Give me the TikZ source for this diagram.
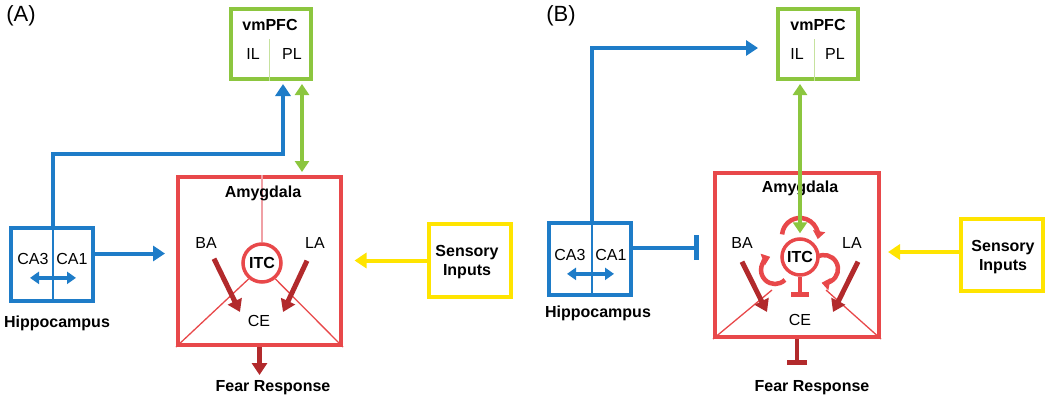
\documentclass[tikz,border=0pt]{standalone}
\usepackage{fontspec}
\setmainfont{Liberation Sans}
\usetikzlibrary{arrows.meta}
\usetikzlibrary{calc}
\definecolor{hipblue}{RGB}{30,124,200}
\definecolor{pfcgreen}{RGB}{140,198,63}
\definecolor{amyred}{RGB}{232,72,74}
\definecolor{cered}{RGB}{178,42,44}
\definecolor{sensyellow}{RGB}{255,228,0}
\definecolor{amypink}{RGB}{240,160,165}

\begin{document}
\begin{tikzpicture}[x=1pt,y=1pt,
		lab/.style={inner sep=0pt,font=\fontsize{16}{19}\selectfont},
		blab/.style={inner sep=0pt,font=\fontsize{16}{19}\selectfont\bfseries},
		tag/.style={inner sep=0pt,font=\fontsize{22}{24}\selectfont},
		region/.style n args={3}{draw=#1,line width=4pt,minimum width=#2,minimum height=#3,inner sep=0pt},
		itc/.style={circle,draw=amyred,line width=3.5pt,minimum size=#1,inner sep=0pt,blab},
		bluearrow/.style={hipblue,line width=4pt,-{Triangle[length=12pt,width=15pt]}},
		bluedbl/.style={hipblue,line width=3.5pt,{Triangle[length=9pt,width=12pt]}-{Triangle[length=9pt,width=12pt]}},
		blueinhibit/.style={hipblue,line width=4pt,-{Bar[width=25pt,line width=5pt]}},
		greendbl/.style={pfcgreen,line width=4pt,{Triangle[length=11pt,width=14pt]}-{Triangle[length=11pt,width=14pt]}},
		yellowarrow/.style={sensyellow,line width=4pt,-{Triangle[length=12pt,width=15pt]}},
		cearrow/.style={cered,line width=5pt,-{Triangle[length=12pt,width=15pt]}},
		ceinhibit/.style={cered,line width=4.5pt,-{Bar[width=20pt,line width=5pt]}},
		itcinhibit/.style={amyred,line width=4.5pt,-{Bar[width=18pt,line width=5pt]}},
		itcloop/.style={amyred,line width=4.5pt,-{Triangle[length=8pt,width=12pt]}},
		edge/.style={amyred,line width=1.3pt}]
	\useasboundingbox (0,0) rectangle (1050,-402);

	% (A)
	\node[tag] (tagA) at (21,-16) {(A)};
	\node[region={pfcgreen}{80pt}{70pt}] (pfcA) at (271,-44) {};
	\draw[pfcgreen!50,line width=1pt] ($(pfcA.south)+(-2,0)$) -- ++(0,42);
	\node[blab] (vmA) at (270,-25) {vmPFC};
	\node[lab] (ilA) at (253,-54) {IL};
	\node[lab] (plA) at (292,-54) {PL};

	\node[region={hipblue}{82pt}{73pt}] (hipA) at (52,-264.5) {};
	\draw[hipblue,line width=2pt] ($(hipA.north)+(1,0)$) -- ($(hipA.south)+(1,0)$);
	\node[lab] (ca3A) at (33,-259) {CA3};
	\node[lab] (ca1A) at (72,-259) {CA1};
	\draw[bluedbl] ($(ca3A.south)+(-3,-13)$) -- ($(ca1A.south)+(4,-13)$);
	\node[blab] (hipnameA) at (57,-323) {Hippocampus};

	\node[region={amyred}{163pt}{168pt}] (amyA) at (259.5,-261) {};
	\node[itc=38pt] (itcA) at (262,-263) {ITC};
	\draw[amypink,line width=1.2pt] (itcA.north) -- (itcA.north |- amyA.north);
	\node[blab] (amynameA) at (263,-193) {Amygdala};
	\node[lab] (baA) at (206,-243) {BA};
	\node[lab] (laA) at (315,-243) {LA};
	\node[lab] (ceA) at (259,-321) {CE};
	\draw[edge] (itcA.230) -- (amyA.south west);
	\draw[edge] (itcA.310) -- (amyA.south east);
	\draw[cearrow] ($(baA.south)+(8,-10)$) -- ($(ceA)+(-19,9)$);
	\draw[cearrow] ($(laA.south)+(-8,-12)$) -- ($(ceA)+(24,9)$);
	\draw[cearrow] (amyA.south) -- ++(0,-28);
	\node[blab] (fearA) at (273,-388) {Fear Response};

	\node[region={sensyellow}{82pt}{73pt}] (sensA) at (469.5,-260.5) {};
	\node[blab,align=center] (senstextA) at (467,-262) {Sensory\\Inputs};

	\coordinate (kneeA) at (283,-154);
	\draw[bluearrow,shorten >=3pt] ($(hipA.north)+(1,0)$) |- (kneeA) -- (kneeA |- pfcA.south);
	\draw[bluearrow] ($(hipA.east)+(0,11)$) -- ++(70,0);
	\coordinate (gA) at ($(pfcA.south)+(31,0)$);
	\draw[greendbl,shorten <=3pt,shorten >=3pt] (gA) -- (gA |- amyA.north);
	\draw[yellowarrow] (sensA.west) -- ++(-72,0);

	% (B)
	\node[tag] (tagB) at (561,-16) {(B)};
	\node[region={pfcgreen}{80pt}{70pt}] (pfcB) at (818,-44) {};
	\draw[pfcgreen!50,line width=1pt] ($(pfcB.south)+(-4,0)$) -- ++(0,42);
	\node[blab] (vmB) at (818,-25) {vmPFC};
	\node[lab] (ilB) at (797,-54) {IL};
	\node[lab] (plB) at (835,-54) {PL};

	\node[region={hipblue}{82pt}{72pt}] (hipB) at (590,-258.5) {};
	\draw[hipblue,line width=2pt] ($(hipB.north)+(2,0)$) -- ($(hipB.south)+(2,0)$);
	\node[lab] (ca3B) at (570,-255) {CA3};
	\node[lab] (ca1B) at (611,-255) {CA1};
	\draw[bluedbl] ($(ca3B.south)+(-3,-13)$) -- ($(ca1B.south)+(3,-13)$);
	\node[blab] (hipnameB) at (598,-313) {Hippocampus};

	\node[region={amyred}{164pt}{164pt}] (amyB) at (797,-255) {};
	\node[itc=36pt] (itcB) at (800,-257) {ITC};
	\node[blab] (amynameB) at (800,-188) {Amygdala};
	\node[lab] (baB) at (742,-243) {BA};
	\node[lab] (laB) at (852,-243) {LA};
	\node[lab] (ceB) at (800,-320) {CE};
	\draw[edge] ($(itcB)+(-28,-33)$) -- (amyB.south west);
	\draw[edge] ($(itcB)+(26,-33)$) -- (amyB.south east);
	\draw[itcloop] ($(itcB)+(-17.9,22.6)$) arc (175:-10:18);
	\draw[itcloop] ($(itcB)+(-15.1,-22.9)$) arc (-45:-250:14);
	\draw[itcloop] ($(itcB)+(17,0.1)$) arc (120:-100:14);
	\draw[itcinhibit] (itcB.south) -- ++(0,-20);
	\draw[cearrow] ($(baB.south)+(0,-13)$) -- ($(ceB)+(-33,8)$);
	\draw[cearrow] ($(laB.south)+(6,-13)$) -- ($(ceB)+(33,8)$);
	\draw[ceinhibit] (amyB.south) -- ++(0,-26);
	\node[blab] (fearB) at (812,-388) {Fear Response};

	\node[region={sensyellow}{82pt}{72pt}] (sensB) at (1002,-255) {};
	\node[blab,align=center] (senstextB) at (1003,-257) {Sensory\\Inputs};

	\coordinate (tipB) at ($(pfcB.west)+(-18,-4)$);
	\draw[bluearrow] ($(hipB.north)+(2,0)$) |- (tipB);
	\draw[blueinhibit] ($(hipB.east)+(0,11)$) -- ++(66,0);
	\coordinate (gB) at ($(pfcB.south)+(-18,0)$);
	\draw[greendbl,shorten <=3pt,shorten >=4pt] (gB) -- (gB |- itcB.north);
	\draw[yellowarrow] ($(sensB.west)+(0,3)$) -- ++(-71,0);
\end{tikzpicture}
\end{document}
